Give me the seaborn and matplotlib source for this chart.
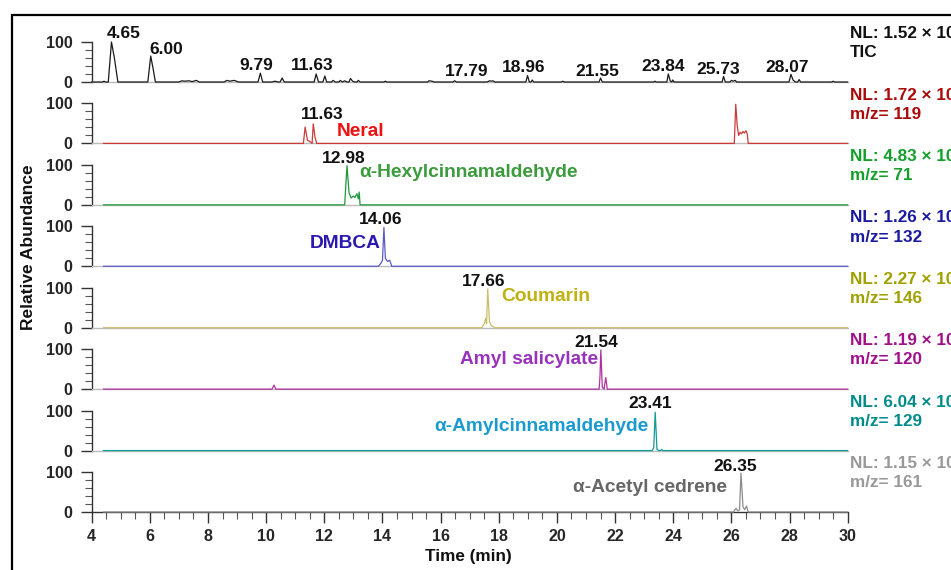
import matplotlib
matplotlib.use("Agg")
import matplotlib.pyplot as plt
import seaborn as sns
import pandas as pd
from matplotlib.ticker import MultipleLocator, FixedLocator
from matplotlib.patches import Rectangle

# ---------------- data ----------------
tic_t = [4.0, 4.38, 4.42, 4.47, 4.57, 4.68, 4.78, 4.90, 5.93, 6.03, 6.12, 6.19, 7.0, 7.1, 7.2, 7.35, 7.45, 7.6, 7.7,
         8.55, 8.65, 8.75, 8.9, 9.05, 9.72, 9.80, 9.88, 10.2, 10.3, 10.4, 10.48, 10.55, 10.62, 11.65, 11.72, 11.8,
         11.95, 12.02, 12.08, 12.25, 12.3, 12.38, 12.5, 12.55, 12.62, 12.7, 12.78, 12.85, 12.9, 12.97, 13.05, 13.12,
         13.17, 13.23, 14.05, 14.1, 14.15, 15.55, 15.6, 15.7, 15.78, 16.42, 16.48, 16.55, 17.6, 17.68, 17.75, 17.8,
         17.86, 18.93, 18.99, 19.05, 19.11, 19.15, 19.2, 20.15, 20.2, 20.25, 21.45, 21.5, 21.56, 23.33, 23.37, 23.41,
         23.78, 23.83, 23.9, 23.95, 23.98, 24.03, 25.68, 25.73, 25.79, 25.95, 26.0, 26.06, 26.13, 26.18, 27.98, 28.05,
         28.12, 28.2, 28.28, 28.33, 28.38, 29.45, 29.5, 29.55, 30.0]
tic_a = [0, 0, 2, 0, 0, 100, 60, 0, 0, 65, 30, 0, 0, 3, 2, 3, 1, 4, 0,
         0, 4, 2, 4, 0, 0, 22, 0, 0, 2, 0, 0, 10, 0, 0, 20, 0,
         0, 15, 0, 0, 4, 0, 0, 4, 0, 3, 0, 0, 9, 2, 0, 0,
         4, 0, 0, 2, 0, 0, 3, 2, 0, 0, 3, 0, 0, 3, 2, 3,
         0, 0, 16, 0, 0, 5, 0, 0, 2, 0, 0, 10, 0, 0, 2, 0,
         0, 20, 2, 0, 5, 0, 0, 14, 0, 0, 4, 2, 4, 0, 0, 19,
         5, 0, 0, 6, 0, 0, 2, 0, 0]

neral_t = [4.4, 11.28, 11.34, 11.42, 11.5, 11.58, 11.62, 11.68, 11.74, 26.1, 26.15, 26.2, 26.25, 26.3, 26.35,
           26.4, 26.45, 26.5, 26.55, 26.58, 30.0]
neral_a = [0, 0, 41, 8, 5, 0, 49, 15, 0, 0, 98, 45, 20, 28, 24, 30, 26, 32, 22, 0, 0]

hexyl_t = [4.4, 12.7, 12.78, 12.85, 12.92, 13.0, 13.05, 13.12, 13.17, 13.2, 13.23, 30.0]
hexyl_a = [0, 0, 98, 30, 17, 22, 18, 28, 15, 32, 0, 0]

dmbca_t = [4.4, 13.86, 13.95, 14.0, 14.05, 14.1, 14.17, 14.25, 14.32, 30.0]
dmbca_a = [0, 0, 8, 15, 97, 20, 12, 15, 0, 0]

coum_t = [4.4, 17.42, 17.5, 17.55, 17.58, 17.62, 17.68, 17.75, 17.87, 30.0]
coum_a = [0, 0, 10, 24, 10, 97, 15, 5, 0, 0]

amyl_t = [4.4, 10.2, 10.27, 10.33, 21.45, 21.48, 21.51, 21.56, 21.62, 21.68, 21.73, 30.0]
amyl_a = [0, 0, 10, 0, 0, 30, 98, 5, 0, 29, 0, 0]

amcin_t = [4.4, 23.28, 23.33, 23.38, 23.44, 23.5, 23.56, 23.6, 23.64, 30.0]
amcin_a = [0, 0, 8, 96, 3, 0, 0, 3, 0, 0]

ced_t = [4.4, 26.07, 26.16, 26.22, 26.28, 26.33, 26.4, 26.46, 26.52, 26.58, 30.0]
ced_a = [0, 0, 9, 3, 5, 97, 12, 6, 15, 0, 0]

# TIC peak labels
tic_labels = ["4.65", "6.00", "9.79", "11.63", "17.79", "18.96", "21.55", "23.84", "25.73", "28.07"]
tic_label_t = [5.11, 6.56, 9.65, 11.58, 16.91, 18.84, 21.38, 23.64, 25.53, 27.9]
tic_label_y = [120, 81, 40, 40, 25, 35, 27, 38, 32, 35]

# extracted ion chromatograms
names = ["Neral", "α-Hexylcinnamaldehyde", "DMBCA", "Coumarin", "Amyl salicylate",
         "α-Amylcinnamaldehyde", "α-Acetyl cedrene"]
rt_labels = ["11.63", "12.98", "14.06", "17.66", "21.54", "23.41", "26.35"]
rt_label_t = [11.92, 12.65, 13.93, 17.47, 21.36, 23.2, 26.13]
rt_label_y = [73, 115, 118, 116, 117, 117, 113]
name_t = [12.43, 13.2, 13.93, 18.1, 21.4, 23.14, 25.84]
name_y = [29, 82, 56, 77, 74, 61, 61]
name_ha = ["left", "left", "right", "left", "right", "right", "right"]

nl_values = ["NL: 1.52 × 10⁹", "NL: 1.72 × 10⁶", "NL: 4.83 × 10⁷", "NL: 1.26 × 10⁷", "NL: 2.27 × 10⁷",
             "NL: 1.19 × 10⁷", "NL: 6.04 × 10⁶", "NL: 1.15 × 10⁷"]
nl_second = ["TIC", "m/z= 119", "m/z= 71", "m/z= 132", "m/z= 146", "m/z= 120", "m/z= 129", "m/z= 161"]

traces_t = [tic_t, neral_t, hexyl_t, dmbca_t, coum_t, amyl_t, amcin_t, ced_t]
traces_a = [tic_a, neral_a, hexyl_a, dmbca_a, coum_a, amyl_a, amcin_a, ced_a]

# ---------------- styles ----------------
trace_colors = ["#1a1a1a", "#cc3a3a", "#1f9a3a", "#5a5ac8", "#c8bd6a", "#b02ea0", "#119a9a", "#8c8c8c"]
name_colors = ["#ee1111", "#3c9b3c", "#2a18b0", "#c0b010", "#9933bb", "#1a9ad0", "#666666"]
nl_colors = ["#111111", "#aa0a0a", "#12a02a", "#1a1aa0", "#a0a000", "#a0108a", "#008b8b", "#999999"]

sns.set_style("ticks")
plt.rcParams['font.family'] = ['Liberation Sans', 'DejaVu Sans']
plt.rcParams['font.weight'] = 'bold'

W, H = 951, 570
fig = plt.figure(figsize=(W / 100, H / 100), dpi=100)

x_left_px, x_right_px = 91.7, 847.7
step_px = 61.43
first_base_px = 82
units_per_px = 100 / 40.0
top_units = step_px * units_per_px

axes = []
for k in range(8):
    base = first_base_px + step_px * k
    ax = fig.add_axes([x_left_px / W, 1 - base / H, (x_right_px - x_left_px) / W, step_px / H])
    ax.set_facecolor("none")
    df = pd.DataFrame({"t": traces_t[k], "a": traces_a[k]})
    sns.lineplot(data=df, x="t", y="a", ax=ax, color=trace_colors[k], lw=0.9,
                 sort=False, estimator=None, legend=False)
    for ln in ax.lines:
        ln.set_clip_on(False)
        ln.set_zorder(3)
    ax.set_xlim(4, 30)
    ax.set_ylim(0, top_units)
    ax.set_xlabel("")
    ax.set_ylabel("")
    ax.spines["top"].set_visible(False)
    ax.spines["right"].set_visible(False)
    ax.spines["left"].set_bounds(0, 100)
    ax.spines["left"].set_color("#333333")
    ax.spines["left"].set_linewidth(1.0)
    ax.yaxis.set_major_locator(FixedLocator([0, 100]))
    ax.yaxis.set_minor_locator(FixedLocator([20, 40, 60, 80]))
    ax.tick_params(axis="y", which="major", length=8, width=1, color="#333333", pad=6, labelsize=11.5)
    ax.tick_params(axis="y", which="minor", length=5, width=0.8, color="#555555")
    for lab in ax.get_yticklabels():
        lab.set_fontweight("bold")
    if k < 7:
        ax.spines["bottom"].set_color("#bbbbbb")
        ax.spines["bottom"].set_linewidth(1.0)
        ax.tick_params(axis="x", which="both", bottom=False, labelbottom=False)
    else:
        ax.spines["bottom"].set_color("#333333")
        ax.spines["bottom"].set_linewidth(1.0)
        ax.xaxis.set_major_locator(MultipleLocator(2))
        ax.xaxis.set_minor_locator(MultipleLocator(0.5))
        ax.tick_params(axis="x", which="major", length=8, width=1, color="#333333", labelsize=11.5, pad=4)
        ax.tick_params(axis="x", which="minor", length=5, width=0.8, color="#555555")
        for lab in ax.get_xticklabels():
            lab.set_fontweight("bold")

    # right-hand NL labels
    tr = ax.get_yaxis_transform()
    ax.text(1.003, 121, nl_values[k], transform=tr, ha="left", va="center", fontsize=12.3,
            fontweight="bold", color=nl_colors[k], clip_on=False)
    ax.text(1.003, 73, nl_second[k], transform=tr, ha="left", va="center", fontsize=12.3,
            fontweight="bold", color=nl_colors[k], clip_on=False)
    axes.append(ax)

# TIC peak labels
for lab, t, y in zip(tic_labels, tic_label_t, tic_label_y):
    axes[0].text(t, y, lab, ha="center", va="center", fontsize=12.5, fontweight="bold", color="#111111")

# EIC labels
for i in range(7):
    ax = axes[i + 1]
    ax.text(rt_label_t[i], rt_label_y[i], rt_labels[i], ha="center", va="center", fontsize=12.5,
            fontweight="bold", color="#111111")
    ax.text(name_t[i], name_y[i], names[i], ha=name_ha[i], va="center", fontsize=13.8,
            fontweight="bold", color=name_colors[i])

fig.text(29 / W, 1 - 247 / H, "Relative Abundance", rotation=90, ha="center", va="center",
         fontsize=12.5, fontweight="bold", color="#111111")
fig.text(468 / W, 1 - 556 / H, "Time (min)", ha="center", va="center",
         fontsize=12.3, fontweight="bold", color="#111111")

fig.patches.append(Rectangle((12 / W, -0.1), 1.2, 1.1 - 15 / H, transform=fig.transFigure,
                             fill=False, edgecolor="black", linewidth=1.6))

fig.savefig("out.png", dpi=100)
